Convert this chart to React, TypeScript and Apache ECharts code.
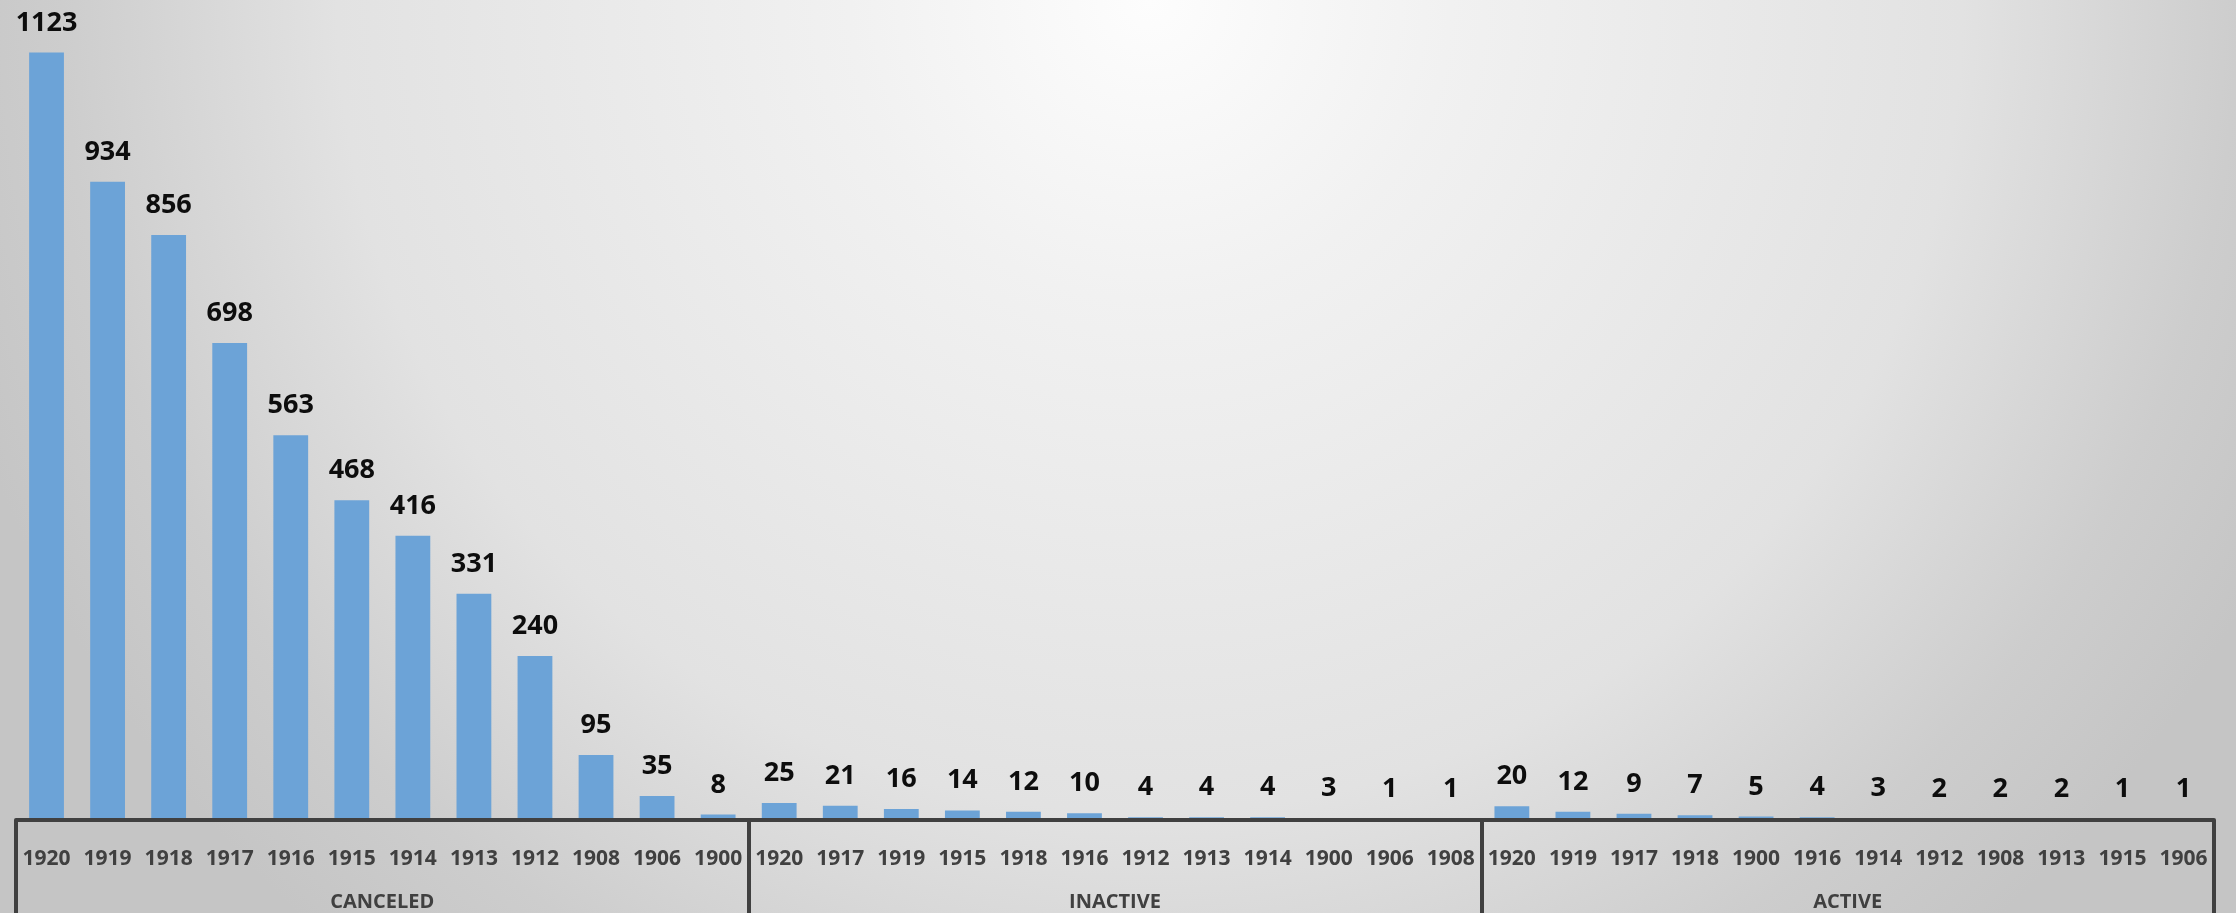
import React, { useEffect, useRef } from "react";
import * as echarts from "echarts";

const groups = ["CANCELED", "INACTIVE", "ACTIVE"];
const canceledYears = ["1920", "1919", "1918", "1917", "1916", "1915", "1914", "1913", "1912", "1908", "1906", "1900"];
const canceledValues = [1123, 934, 856, 698, 563, 468, 416, 331, 240, 95, 35, 8];
const inactiveYears = ["1920", "1917", "1919", "1915", "1918", "1916", "1912", "1913", "1914", "1900", "1906", "1908"];
const inactiveValues = [25, 21, 16, 14, 12, 10, 4, 4, 4, 3, 1, 1];
const activeYears = ["1920", "1919", "1917", "1918", "1900", "1916", "1914", "1912", "1908", "1913", "1915", "1906"];
const activeValues = [20, 12, 9, 7, 5, 4, 3, 2, 2, 2, 1, 1];

const years = [...canceledYears, ...inactiveYears, ...activeYears];
const values = [...canceledValues, ...inactiveValues, ...activeValues];

export default function App() {
  const ref = useRef<HTMLDivElement>(null);
  useEffect(() => {
    document.body.style.margin = "0";
    const chart = echarts.init(ref.current!, null, { renderer: "svg" });
    chart.setOption({
      animation: false,
      backgroundColor: {
        type: "radial",
        x: 1150,
        y: 0,
        r: 1250,
        global: true,
        colorStops: [
          { offset: 0, color: "#fdfdfd" },
          { offset: 0.24, color: "#f1f1f1" },
          { offset: 0.65, color: "#e2e2e2" },
          { offset: 0.87, color: "#cdcdcd" },
          { offset: 1, color: "#c5c5c5" },
        ],
      },
      grid: { left: 16, right: 22, top: 0, bottom: 93, containLabel: false },
      xAxis: [
        {
          type: "category",
          data: years,
          position: "bottom",
          z: 5,
          axisLine: { show: true, lineStyle: { color: "#404040", width: 4 } },
          axisTick: { show: false },
          axisLabel: {
            interval: 0,
            margin: 26,
            fontFamily: "Open Sans",
            fontWeight: "bold",
            fontSize: 21,
            color: "#404040",
          },
        },
        {
          type: "category",
          data: groups,
          position: "bottom",
          z: 5,
          axisLine: { show: false },
          axisTick: { show: true, length: 100, lineStyle: { color: "#404040", width: 4 } },
          axisLabel: {
            interval: 0,
            margin: 70,
            fontFamily: "Open Sans",
            fontWeight: "bold",
            fontSize: 20,
            color: "#404040",
          },
          splitLine: { show: false },
        },
      ],
      yAxis: {
        type: "value",
        min: 0,
        max: 1200,
        show: false,
        splitLine: { show: false },
      },
      series: [
        {
          type: "bar",
          xAxisIndex: 0,
          z: 2,
          data: values,
          barWidth: "57%",
          itemStyle: { color: "#6CA3D7" },
          label: {
            show: true,
            position: "top",
            distance: 19,
            fontFamily: "Open Sans",
            fontWeight: "bold",
            fontSize: 27,
            lineHeight: 27,
            color: "#0d0d0d",
          },
        },
      ],
    });
    return () => chart.dispose();
  }, []);
  return <div ref={ref} style={{ position: "fixed", left: 0, top: 0, width: 2236, height: 913 }} />;
}
